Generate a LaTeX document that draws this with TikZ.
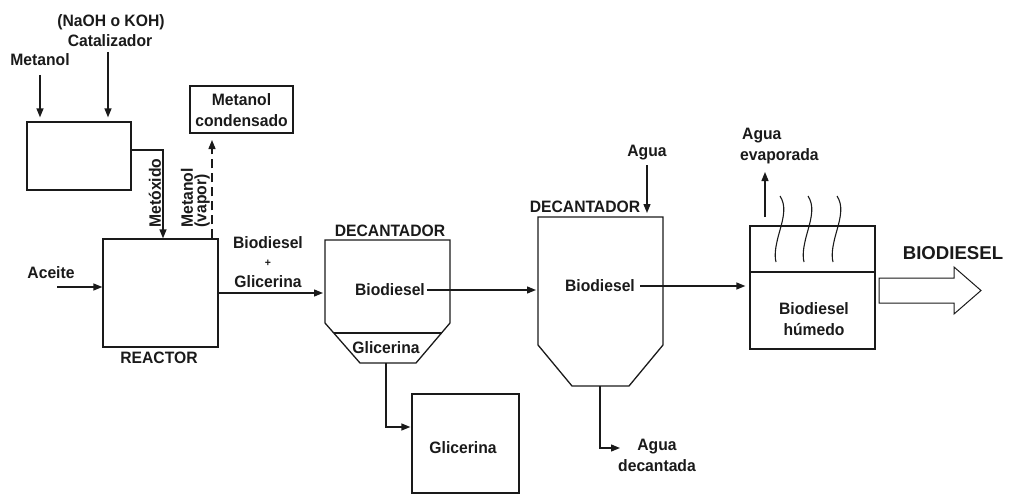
\documentclass[tikz,border=0pt]{standalone}
\usepackage{fontspec}
\setmainfont{Liberation Sans}[FakeStretch=0.95]
\newfontfamily\bigfont{Liberation Sans}
\usetikzlibrary{arrows.meta}
\definecolor{ink}{HTML}{1A1A1A}
\tikzset{
  lbl/.style={font=\bfseries\fontsize{16.5}{21}\selectfont, text=ink, inner sep=0pt, align=center},
  box/.style={draw=ink, line width=1.3pt, inner sep=0pt},
  ln/.style={draw=ink, line width=1.3pt},
  arr/.style={draw=ink, line width=1.3pt, -{Triangle[length=9pt,width=7pt]}},
}
\begin{document}
\begin{tikzpicture}[x=1pt,y=-1pt]
\useasboundingbox (0,0) rectangle (1010,495);
% ---- boxes
\node[box, minimum width=104pt, minimum height=68pt] (mix) at (79,156) {};
\node[box, minimum width=115pt, minimum height=108pt] (reactor) at (160.5,293) {};
\node[box, minimum width=103pt, minimum height=47pt] (cond) at (241.5,109.5) {};
\node[box, minimum width=107pt, minimum height=99pt] (glibox) at (465.5,443.5) {};
\node[box, minimum width=125pt, minimum height=123pt] (dryer) at (812.5,287.5) {};
% ---- texts
\node[lbl] (metT) at (40,60) {Metanol};
\node[lbl] (nao) at (111,22) {(NaOH o KOH)};
\node[lbl] (catT) at (110,41) {Catalizador};
\node[lbl] (condT) at (241.5,110) {Metanol\\condensado};
\node[lbl, rotate=90] (metox) at (155,193) {Metóxido};
\node[lbl, rotate=90] (vap1) at (187,198) {Metanol};
\node[lbl, rotate=90] (vap2) at (202,201) {(vapor)};
\node[lbl] (aceT) at (51,273) {Aceite};
\node[lbl] (bgT) at (268,262) {Biodiesel\\[-3pt]{\fontsize{11}{11}\selectfont +}\\[0pt]Glicerina};
\node[lbl] (reacT) at (159,358) {REACTOR};
\node[lbl] (dec1T) at (390,231) {DECANTADOR};
\node[lbl] (b1) at (390,290) {Biodiesel};
\node[lbl] (g1) at (386,348) {Glicerina};
\node[lbl] (gboxT) at (463,448) {Glicerina};
\node[lbl] (dec2T) at (585,207) {DECANTADOR};
\node[lbl] (aguaT) at (647,153) {Agua};
\node[lbl] (b2) at (600,286) {Biodiesel};
\node[lbl] (aguadT) at (657,455) {Agua\\decantada};
\node[lbl, align=left, anchor=west] (aguaeT) at (740,146) {\hspace{2pt}Agua\\evaporada};
\node[lbl] (bhT) at (814,319) {Biodiesel\\húmedo};
\node[font=\bigfont\bfseries\fontsize{18.6}{20}\selectfont, text=ink, inner sep=0pt] (bioT) at (953,253) {BIODIESEL};
% ---- decanter 1
\coordinate (d1tl) at (325,240); \coordinate (d1tr) at (450,240);
\coordinate (d1r) at (450,323); \coordinate (d1br) at (416,363);
\coordinate (d1bl) at (360,363); \coordinate (d1l) at (325,323);
\draw[ln] (d1tl) -- (d1tr) -- (d1r) -- (d1br) -- (d1bl) -- (d1l) -- cycle;
\draw[ln] (333.5,333) -- (441.5,333);
% ---- decanter 2
\coordinate (d2tl) at (538,217); \coordinate (d2tr) at (663,217);
\coordinate (d2r) at (663,345); \coordinate (d2br) at (629,386);
\coordinate (d2bl) at (572,386); \coordinate (d2l) at (538,345);
\draw[ln] (d2tl) -- (d2tr) -- (d2r) -- (d2br) -- (d2bl) -- (d2l) -- cycle;
% ---- dryer divider
\draw[ln] (dryer.west |- 0,272) -- (dryer.east |- 0,272);
% ---- connectors
\draw[arr] ([yshift=-15pt]metT.center) -- ([yshift=4pt]metT.center |- mix.north);
\draw[arr] ([xshift=-2pt,yshift=-11pt]catT.center) -- ([xshift=-2pt,yshift=4pt]catT.center |- mix.north);
\draw[arr] ([yshift=6pt]mix.east) -| ([xshift=2.5pt]reactor.north);
\coordinate (vapTip) at (212,140);
\draw[arr, dashed, dash pattern=on 9pt off 5pt] ([xshift=51.5pt]reactor.north) -- (vapTip);
\coordinate (aceStart) at (57,287);
\draw[arr] (aceStart) -- (aceStart -| reactor.west);
\draw[arr, shorten >=2pt] (reactor.east) -- (reactor.east -| d1tl);
\draw[arr, shorten >=4pt] ([xshift=2pt]b1.east) -- ([xshift=2pt]b1.east -| d2tl);
\coordinate (g1out) at (386,363);
\draw[arr, shorten >=1pt] (g1out) |- (glibox.west |- 0,427);
\draw[arr, shorten >=4pt] (aguaT.south |- 0,165) -- (aguaT.south |- d2tr);
\draw[arr, shorten >=4pt] ([xshift=5pt]b2.east) -- (dryer.west |- b2.east);
\coordinate (d2out) at (600,386);
\coordinate (aguadTip) at (620,448);
\draw[arr] (d2out) |- (aguadTip);
\coordinate (evapStart) at (765,217);
\draw[arr] (evapStart) -- (765,172);
% ---- wavy vapour lines
\foreach \x in {780,808,837}{
  \draw[draw=ink, line width=1.1pt] (\x,196) .. controls (\x+6,205) and (\x+4,216) .. (\x,230)
     .. controls (\x-4,244) and (\x-6,254) .. (\x-4,262);
}
% ---- big hollow arrow
\draw[draw=ink, line width=1pt, fill=white] (879,278) -- (954,278) -- (954,267) -- (981,290.5)
   -- (954,314) -- (954,303) -- (879,303) -- cycle;
\end{tikzpicture}
\end{document}
